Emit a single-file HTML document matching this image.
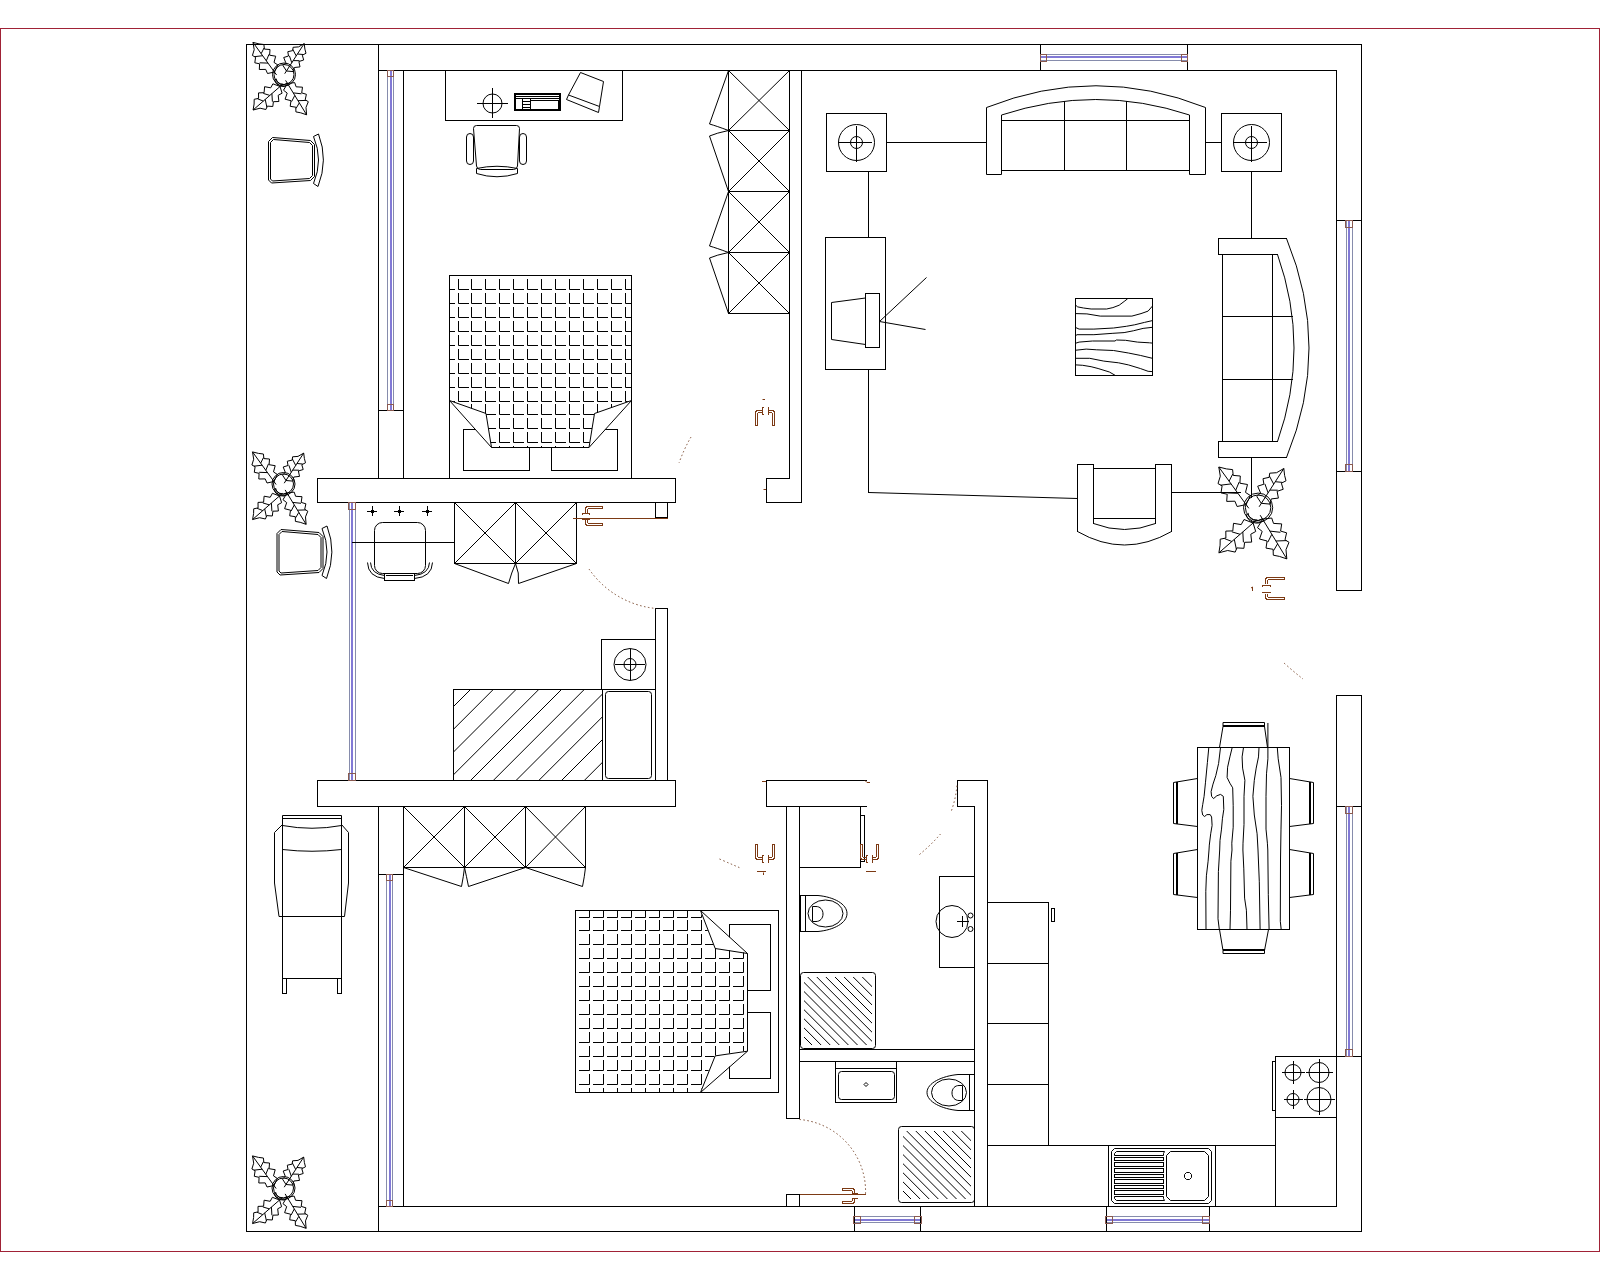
<!DOCTYPE html>
<html><head><meta charset="utf-8"><title>Floor plan</title>
<style>
html,body{margin:0;padding:0;background:#fff;}
body{width:1600px;height:1280px;overflow:hidden;}
svg{display:block;}
svg path,svg rect,svg circle,svg ellipse,svg polyline{fill:none;stroke:#000;stroke-width:1;}
.win path{stroke:#868cac;}
.win path.w2{stroke:#8279d6;stroke-width:2;}
.wend rect{stroke:#8a5a50;}
.or{stroke:#7c3a14 !important;}
.arc path{stroke:#7a4a30;stroke-dasharray:1.5 2.5;}
.red{stroke:#a02236 !important;}
</style></head>
<body>
<svg width="1600" height="1280" viewBox="0 0 1600 1280" >
<rect class="red" shape-rendering="crispEdges" x="0.5" y="28.5" width="1599" height="1223"/>
<path shape-rendering="crispEdges" d="M246 44.5H1362"/>
<path shape-rendering="crispEdges" d="M246 1231.5H1362"/>
<path shape-rendering="crispEdges" d="M246.5 44V1232"/>
<path shape-rendering="crispEdges" d="M1361.5 44V591"/>
<path shape-rendering="crispEdges" d="M1361.5 695V1232"/>
<path shape-rendering="crispEdges" d="M378.5 44V479"/>
<path shape-rendering="crispEdges" d="M378.5 806V1232"/>
<path shape-rendering="crispEdges" d="M378 70.5H1337"/>
<path shape-rendering="crispEdges" d="M1040.5 44V71"/>
<path shape-rendering="crispEdges" d="M1187.5 44V71"/>
<path shape-rendering="crispEdges" d="M1336.5 70V591"/>
<path shape-rendering="crispEdges" d="M1336.5 695V1207"/>
<path shape-rendering="crispEdges" d="M1336 220.5H1362"/>
<path shape-rendering="crispEdges" d="M1336 471.5H1362"/>
<path shape-rendering="crispEdges" d="M1336 590.5H1362"/>
<path shape-rendering="crispEdges" d="M1336 695.5H1362"/>
<path shape-rendering="crispEdges" d="M1336 806.5H1362"/>
<path shape-rendering="crispEdges" d="M1275 1056.5H1362"/>
<path shape-rendering="crispEdges" d="M403.5 70V479"/>
<path shape-rendering="crispEdges" d="M378 410.5H404"/>
<rect x="317.5" y="478.5" width="358" height="24" shape-rendering="crispEdges"/>
<rect x="317.5" y="780.5" width="358" height="26" shape-rendering="crispEdges"/>
<path shape-rendering="crispEdges" d="M403.5 806V1207"/>
<path shape-rendering="crispEdges" d="M378 874.5H404"/>
<path shape-rendering="crispEdges" d="M378 1206.5H1337"/>
<path shape-rendering="crispEdges" d="M854.5 1206V1232"/>
<path shape-rendering="crispEdges" d="M920.5 1206V1232"/>
<path shape-rendering="crispEdges" d="M1106.5 1206V1232"/>
<path shape-rendering="crispEdges" d="M1209.5 1206V1232"/>
<path shape-rendering="crispEdges" d="M789.5 70V479"/>
<path shape-rendering="crispEdges" d="M801.5 70V503"/>
<path shape-rendering="crispEdges" d="M766 478.5H790"/>
<path shape-rendering="crispEdges" d="M766.5 478V503"/>
<path shape-rendering="crispEdges" d="M766 502.5H802"/>
<rect x="655.5" y="502.5" width="12" height="15" shape-rendering="crispEdges"/>
<path shape-rendering="crispEdges" d="M655.5 608V781"/>
<path shape-rendering="crispEdges" d="M667.5 608V781"/>
<path shape-rendering="crispEdges" d="M655 608.5H668"/>
<path shape-rendering="crispEdges" d="M766 780.5H867"/>
<path shape-rendering="crispEdges" d="M766 806.5H867"/>
<path shape-rendering="crispEdges" d="M766.5 780V807"/>
<path shape-rendering="crispEdges" d="M786.5 806V1119"/>
<path shape-rendering="crispEdges" d="M799.5 806V1119"/>
<path shape-rendering="crispEdges" d="M786 1118.5H800"/>
<rect x="786.5" y="1194.5" width="13" height="12" shape-rendering="crispEdges"/>
<rect x="799.5" y="806.5" width="61" height="61" shape-rendering="crispEdges"/>
<rect x="860.5" y="815.5" width="4" height="46" shape-rendering="crispEdges"/>
<path shape-rendering="crispEdges" d="M957 780.5H988"/>
<path shape-rendering="crispEdges" d="M957.5 780V807"/>
<path shape-rendering="crispEdges" d="M957 806.5H975"/>
<path shape-rendering="crispEdges" d="M974.5 806V1207"/>
<path shape-rendering="crispEdges" d="M987.5 780V1207"/>
<path shape-rendering="crispEdges" d="M799 1049.5H975"/>
<path shape-rendering="crispEdges" d="M799 1061.5H975"/>
<path shape-rendering="crispEdges" d="M1048.5 902V1146"/>
<path shape-rendering="crispEdges" d="M987 902.5H1049"/>
<path shape-rendering="crispEdges" d="M987 963.5H1049"/>
<path shape-rendering="crispEdges" d="M987 1023.5H1049"/>
<path shape-rendering="crispEdges" d="M987 1084.5H1049"/>
<path shape-rendering="crispEdges" d="M987 1145.5H1276"/>
<path shape-rendering="crispEdges" d="M1108.5 1145V1207"/>
<path shape-rendering="crispEdges" d="M1215.5 1145V1207"/>
<path shape-rendering="crispEdges" d="M1275.5 1056V1207"/>
<path shape-rendering="crispEdges" d="M1275 1117.5H1337"/>
<rect x="1051.5" y="908.5" width="3" height="13" shape-rendering="crispEdges"/>
<rect x="1272.5" y="1061.5" width="3" height="49" shape-rendering="crispEdges"/>
<g class="win">
<path class="w1" shape-rendering="crispEdges" d="M387.5 71V410"/>
<path class="w1" shape-rendering="crispEdges" d="M393.5 71V410"/>
<path class="w2" shape-rendering="crispEdges" d="M391 71V410"/>
<path class="w1" shape-rendering="crispEdges" d="M349.5 503V780"/>
<path class="w1" shape-rendering="crispEdges" d="M355.5 503V780"/>
<path class="w2" shape-rendering="crispEdges" d="M352 503V780"/>
<path class="w1" shape-rendering="crispEdges" d="M386.5 875V1206"/>
<path class="w1" shape-rendering="crispEdges" d="M392.5 875V1206"/>
<path class="w2" shape-rendering="crispEdges" d="M390 875V1206"/>
<path class="w1" shape-rendering="crispEdges" d="M1346.5 221V471"/>
<path class="w1" shape-rendering="crispEdges" d="M1352.5 221V471"/>
<path class="w2" shape-rendering="crispEdges" d="M1349 221V471"/>
<path class="w1" shape-rendering="crispEdges" d="M1346.5 807V1056"/>
<path class="w1" shape-rendering="crispEdges" d="M1352.5 807V1056"/>
<path class="w2" shape-rendering="crispEdges" d="M1349 807V1056"/>
<path class="w1" shape-rendering="crispEdges" d="M1041 54.5H1187"/>
<path class="w1" shape-rendering="crispEdges" d="M1041 60.5H1187"/>
<path class="w2" shape-rendering="crispEdges" d="M1041 57H1187"/>
<path class="w1" shape-rendering="crispEdges" d="M855 1216.5H920"/>
<path class="w1" shape-rendering="crispEdges" d="M855 1222.5H920"/>
<path class="w2" shape-rendering="crispEdges" d="M855 1220H920"/>
<path class="w1" shape-rendering="crispEdges" d="M1107 1216.5H1209"/>
<path class="w1" shape-rendering="crispEdges" d="M1107 1222.5H1209"/>
<path class="w2" shape-rendering="crispEdges" d="M1107 1220H1209"/>
</g>
<g class="wend">
<rect x="387.5" y="70.5" width="6" height="6" shape-rendering="crispEdges"/>
<rect x="387.5" y="404.5" width="6" height="6" shape-rendering="crispEdges"/>
<rect x="348.5" y="502.5" width="7" height="7" shape-rendering="crispEdges"/>
<rect x="348.5" y="773.5" width="7" height="7" shape-rendering="crispEdges"/>
<rect x="386.5" y="874.5" width="6" height="6" shape-rendering="crispEdges"/>
<rect x="386.5" y="1200.5" width="6" height="6" shape-rendering="crispEdges"/>
<rect x="1345.5" y="220.5" width="7" height="7" shape-rendering="crispEdges"/>
<rect x="1345.5" y="464.5" width="7" height="7" shape-rendering="crispEdges"/>
<rect x="1345.5" y="806.5" width="7" height="7" shape-rendering="crispEdges"/>
<rect x="1345.5" y="1049.5" width="7" height="7" shape-rendering="crispEdges"/>
<rect x="1040.5" y="54.5" width="6" height="7" shape-rendering="crispEdges"/>
<rect x="1181.5" y="54.5" width="6" height="7" shape-rendering="crispEdges"/>
<rect x="853.5" y="1216.5" width="7" height="7" shape-rendering="crispEdges"/>
<rect x="914.5" y="1216.5" width="7" height="7" shape-rendering="crispEdges"/>
<rect x="1105.5" y="1216.5" width="7" height="7" shape-rendering="crispEdges"/>
<rect x="1202.5" y="1216.5" width="7" height="7" shape-rendering="crispEdges"/>
</g>
<rect x="445.5" y="70.5" width="177" height="50" shape-rendering="crispEdges"/>
<circle cx="492.5" cy="103.5" r="9.5"/>
<path shape-rendering="crispEdges" d="M477 103.5H508"/>
<path shape-rendering="crispEdges" d="M492.5 88V118"/>
<rect x="514.5" y="93.5" width="46" height="17" shape-rendering="crispEdges"/>
<rect x="515.5" y="94.5" width="44" height="15" shape-rendering="crispEdges"/>
<path shape-rendering="crispEdges" d="M516 96.5H559"/>
<path shape-rendering="crispEdges" d="M516 98.5H559"/>
<path shape-rendering="crispEdges" d="M522.5 98V110"/>
<path shape-rendering="crispEdges" d="M530.5 98V110"/>
<rect x="530.5" y="100.5" width="28" height="9" shape-rendering="crispEdges"/>
<path shape-rendering="crispEdges" d="M523 101.5H530"/>
<path shape-rendering="crispEdges" d="M523 104.5H530"/>
<path shape-rendering="crispEdges" d="M523 107.5H530"/>
<path d="M580.5 72.5 L603.5 81.5 L599.5 106.5 L598.5 112.5 L566.5 99.5 L568.5 95.0 Z"/>
<path d="M568.5 95.0L599.5 106.5"/>
<path d="M476.5 125.5H516.5Q519.5 125.5 519.5 128.5L517.5 166Q517 169.5 513.5 169.5H480.5Q477 169.5 476.5 166L473.5 128.5Q473.5 125.5 476.5 125.5Z"/>
<rect x="466.5" y="133.5" width="7" height="31" rx="3.5"/>
<rect x="519.5" y="133.5" width="7" height="31" rx="3.5"/>
<path d="M476.5 168.5Q497 164 517.5 168.5L517.5 173.5Q497 180 476.5 173.5Z"/>
<rect x="449.5" y="275.5" width="182" height="203" shape-rendering="crispEdges"/>
<rect x="463.5" y="429.5" width="66" height="41" shape-rendering="crispEdges"/>
<rect x="551.5" y="429.5" width="66" height="41" shape-rendering="crispEdges"/>
<path style="fill:#fff;stroke:none" d="M450 276H631V400.5L589 447.5H491.5L450 400.5Z"/>
<clipPath id="q1"><path d="M450 276H631V400.5L594.5 413.5L589 447H491.5L486 413.5L450 400.5Z"/></clipPath>
<g clip-path="url(#q1)">
<path d="M444.5 265V275.5H455M444.5 279V289.5H455M444.5 293V303.5H455M444.5 307V317.5H455M444.5 321V331.5H455M444.5 335V345.5H455M444.5 349V359.5H455M444.5 363V373.5H455M444.5 377V387.5H455M444.5 391V401.5H455M444.5 404V414.5H455M444.5 418V428.5H455M444.5 432V442.5H455M444.5 446V456.5H455M458.5 265V275.5H469M458.5 279V289.5H469M458.5 293V303.5H469M458.5 307V317.5H469M458.5 321V331.5H469M458.5 335V345.5H469M458.5 349V359.5H469M458.5 363V373.5H469M458.5 377V387.5H469M458.5 391V401.5H469M458.5 404V414.5H469M458.5 418V428.5H469M458.5 432V442.5H469M458.5 446V456.5H469M471.5 265V275.5H482M471.5 279V289.5H482M471.5 293V303.5H482M471.5 307V317.5H482M471.5 321V331.5H482M471.5 335V345.5H482M471.5 349V359.5H482M471.5 363V373.5H482M471.5 377V387.5H482M471.5 391V401.5H482M471.5 404V414.5H482M471.5 418V428.5H482M471.5 432V442.5H482M471.5 446V456.5H482M485.5 265V275.5H496M485.5 279V289.5H496M485.5 293V303.5H496M485.5 307V317.5H496M485.5 321V331.5H496M485.5 335V345.5H496M485.5 349V359.5H496M485.5 363V373.5H496M485.5 377V387.5H496M485.5 391V401.5H496M485.5 404V414.5H496M485.5 418V428.5H496M485.5 432V442.5H496M485.5 446V456.5H496M499.5 265V275.5H510M499.5 279V289.5H510M499.5 293V303.5H510M499.5 307V317.5H510M499.5 321V331.5H510M499.5 335V345.5H510M499.5 349V359.5H510M499.5 363V373.5H510M499.5 377V387.5H510M499.5 391V401.5H510M499.5 404V414.5H510M499.5 418V428.5H510M499.5 432V442.5H510M499.5 446V456.5H510M513.5 265V275.5H524M513.5 279V289.5H524M513.5 293V303.5H524M513.5 307V317.5H524M513.5 321V331.5H524M513.5 335V345.5H524M513.5 349V359.5H524M513.5 363V373.5H524M513.5 377V387.5H524M513.5 391V401.5H524M513.5 404V414.5H524M513.5 418V428.5H524M513.5 432V442.5H524M513.5 446V456.5H524M527.5 265V275.5H538M527.5 279V289.5H538M527.5 293V303.5H538M527.5 307V317.5H538M527.5 321V331.5H538M527.5 335V345.5H538M527.5 349V359.5H538M527.5 363V373.5H538M527.5 377V387.5H538M527.5 391V401.5H538M527.5 404V414.5H538M527.5 418V428.5H538M527.5 432V442.5H538M527.5 446V456.5H538M541.5 265V275.5H552M541.5 279V289.5H552M541.5 293V303.5H552M541.5 307V317.5H552M541.5 321V331.5H552M541.5 335V345.5H552M541.5 349V359.5H552M541.5 363V373.5H552M541.5 377V387.5H552M541.5 391V401.5H552M541.5 404V414.5H552M541.5 418V428.5H552M541.5 432V442.5H552M541.5 446V456.5H552M555.5 265V275.5H566M555.5 279V289.5H566M555.5 293V303.5H566M555.5 307V317.5H566M555.5 321V331.5H566M555.5 335V345.5H566M555.5 349V359.5H566M555.5 363V373.5H566M555.5 377V387.5H566M555.5 391V401.5H566M555.5 404V414.5H566M555.5 418V428.5H566M555.5 432V442.5H566M555.5 446V456.5H566M569.5 265V275.5H580M569.5 279V289.5H580M569.5 293V303.5H580M569.5 307V317.5H580M569.5 321V331.5H580M569.5 335V345.5H580M569.5 349V359.5H580M569.5 363V373.5H580M569.5 377V387.5H580M569.5 391V401.5H580M569.5 404V414.5H580M569.5 418V428.5H580M569.5 432V442.5H580M569.5 446V456.5H580M583.5 265V275.5H594M583.5 279V289.5H594M583.5 293V303.5H594M583.5 307V317.5H594M583.5 321V331.5H594M583.5 335V345.5H594M583.5 349V359.5H594M583.5 363V373.5H594M583.5 377V387.5H594M583.5 391V401.5H594M583.5 404V414.5H594M583.5 418V428.5H594M583.5 432V442.5H594M583.5 446V456.5H594M597.5 265V275.5H608M597.5 279V289.5H608M597.5 293V303.5H608M597.5 307V317.5H608M597.5 321V331.5H608M597.5 335V345.5H608M597.5 349V359.5H608M597.5 363V373.5H608M597.5 377V387.5H608M597.5 391V401.5H608M597.5 404V414.5H608M597.5 418V428.5H608M597.5 432V442.5H608M597.5 446V456.5H608M611.5 265V275.5H622M611.5 279V289.5H622M611.5 293V303.5H622M611.5 307V317.5H622M611.5 321V331.5H622M611.5 335V345.5H622M611.5 349V359.5H622M611.5 363V373.5H622M611.5 377V387.5H622M611.5 391V401.5H622M611.5 404V414.5H622M611.5 418V428.5H622M611.5 432V442.5H622M611.5 446V456.5H622M625.5 265V275.5H636M625.5 279V289.5H636M625.5 293V303.5H636M625.5 307V317.5H636M625.5 321V331.5H636M625.5 335V345.5H636M625.5 349V359.5H636M625.5 363V373.5H636M625.5 377V387.5H636M625.5 391V401.5H636M625.5 404V414.5H636M625.5 418V428.5H636M625.5 432V442.5H636M625.5 446V456.5H636"/>
</g>
<path d="M449.5 400.5 L486.0 413.5 L491.5 447.5 L589.0 447.5 L594.5 413.5 L631.5 400.5"/>
<path d="M449.5 400.5L491.5 447.5"/>
<path d="M631.5 400.5L589.0 447.5"/>
<rect x="728.5" y="70.5" width="61" height="243" shape-rendering="crispEdges"/>
<path shape-rendering="crispEdges" d="M728 130.5H790"/>
<path shape-rendering="crispEdges" d="M728 191.5H790"/>
<path shape-rendering="crispEdges" d="M728 252.5H790"/>
<path d="M728.5 70.5L789.5 130.5"/>
<path d="M789.5 70.5L728.5 130.5"/>
<path d="M728.5 130.5L789.5 191.5"/>
<path d="M789.5 130.5L728.5 191.5"/>
<path d="M728.5 191.5L789.5 252.5"/>
<path d="M789.5 191.5L728.5 252.5"/>
<path d="M728.5 252.5L789.5 313.5"/>
<path d="M789.5 252.5L728.5 313.5"/>
<g shape-rendering="auto">
<path d="M728.5 70.5L709.5 124.0"/>
<path d="M709.5 124.0Q716.5 126.0 728.5 130.5"/>
<path d="M709.5 136.0Q716.5 133.0 728.5 130.5"/>
<path d="M709.5 136.0L728.5 191.5"/>
<path d="M728.5 191.5L709.5 246.0"/>
<path d="M709.5 246.0Q716.5 248.0 728.5 252.5"/>
<path d="M709.5 258.0Q716.5 255.0 728.5 252.5"/>
<path d="M709.5 258.0L728.5 313.5"/>
</g>
<rect x="826.5" y="113.5" width="60" height="58" shape-rendering="crispEdges"/>
<circle cx="856.5" cy="142.5" r="18"/>
<circle cx="856.5" cy="142.5" r="6"/>
<path shape-rendering="crispEdges" d="M838 142.5H872"/>
<path shape-rendering="crispEdges" d="M856.5 126V162"/>
<rect x="1221.5" y="113.5" width="60" height="58" shape-rendering="crispEdges"/>
<circle cx="1251.5" cy="142.5" r="18"/>
<circle cx="1251.5" cy="142.5" r="6"/>
<path shape-rendering="crispEdges" d="M1233 142.5H1267"/>
<path shape-rendering="crispEdges" d="M1251.5 126V162"/>
<path shape-rendering="crispEdges" d="M886 142.5H987"/>
<path shape-rendering="crispEdges" d="M1205 142.5H1222"/>
<path shape-rendering="crispEdges" d="M868.5 171V238"/>
<path shape-rendering="crispEdges" d="M1251.5 171V239"/>
<g shape-rendering="auto">
<path d="M986.5 174.5V107.5Q1096 64 1205.5 107.5V174.5H1189.5V115Q1096 84 1001.5 115V174.5Z"/>
</g>
<path shape-rendering="crispEdges" d="M1001 120.5H1190"/>
<path shape-rendering="crispEdges" d="M1001 170.5H1190"/>
<path shape-rendering="crispEdges" d="M1064.5 101V171"/>
<path shape-rendering="crispEdges" d="M1126.5 101V171"/>
<rect x="825.5" y="237.5" width="60" height="132" shape-rendering="crispEdges"/>
<path d="M865.5 298.0 L831.5 302.5 L831.5 339.5 L865.5 344.5"/>
<rect x="865.5" y="293.5" width="14" height="54" shape-rendering="crispEdges"/>
<g shape-rendering="auto">
<path d="M879.5 321.5L926.5 277.5"/>
<path d="M879.5 321.5L925.5 329.5"/>
</g>
<path shape-rendering="crispEdges" d="M868.5 369V493"/>
<path d="M868.5 492.5 L1077.5 498.5"/>
<rect x="1075.5" y="298.5" width="77" height="77" shape-rendering="crispEdges"/>
<g shape-rendering="auto">
<path d="M1076.0 305.5 L1077.7 306.9 L1083.5 308.0 L1091.1 309.0 L1106.6 309.0 L1112.9 307.6 L1119.2 305.2 L1124.9 300.9 L1127.7 298.7"/>
<path d="M1076.0 313.6 L1086.9 313.9 L1100.2 316.1 L1131.9 316.1 L1141.0 313.6 L1148.1 311.1 L1152.4 306.1"/>
<path d="M1076.0 327.7 L1079.1 329.1 L1093.9 329.1 L1113.6 328.0 L1126.3 326.3 L1134.7 324.8 L1144.5 322.4 L1152.4 320.6"/>
<path d="M1076.0 335.4 L1077.0 334.7 L1093.9 334.7 L1112.9 333.3 L1124.1 332.6 L1133.3 330.8 L1143.1 328.4 L1152.4 327.3"/>
<path d="M1076.0 343.1 L1079.1 342.1 L1092.5 341.0 L1115.0 341.0 L1116.4 340.0 L1125.6 340.3 L1137.5 342.1 L1149.5 342.8 L1152.4 343.1"/>
<path d="M1076.0 350.2 L1086.2 349.1 L1096.7 349.8 L1113.6 350.5 L1128.4 353.0 L1140.3 355.4 L1152.4 358.3"/>
<path d="M1076.0 358.3 L1089.7 358.3 L1103.8 361.1 L1118.5 362.8 L1128.4 364.9 L1140.3 368.5 L1148.1 371.3 L1152.4 371.6"/>
<path d="M1076.0 364.9 L1082.7 365.3 L1091.1 366.7 L1098.1 368.5 L1109.4 372.0 L1115.1 375.3"/>
</g>
<path shape-rendering="crispEdges" d="M1218 238.5H1287"/>
<path shape-rendering="crispEdges" d="M1218 254.5H1278"/>
<path shape-rendering="crispEdges" d="M1218.5 238V255"/>
<path shape-rendering="crispEdges" d="M1218 457.5H1287"/>
<path shape-rendering="crispEdges" d="M1218 441.5H1278"/>
<path shape-rendering="crispEdges" d="M1218.5 441V458"/>
<path shape-rendering="crispEdges" d="M1222.5 254V442"/>
<path shape-rendering="crispEdges" d="M1272.5 254V442"/>
<path shape-rendering="crispEdges" d="M1222 316.5H1293"/>
<path shape-rendering="crispEdges" d="M1222 379.5H1293"/>
<g shape-rendering="auto">
<path d="M1277.5 254.5Q1310.5 348.0 1277.5 441.5"/>
<path d="M1286.5 238.5Q1331.5 348.0 1286.5 457.5"/>
</g>
<path shape-rendering="crispEdges" d="M1251.5 457V498"/>
<path shape-rendering="crispEdges" d="M1077.5 464V532"/>
<path shape-rendering="crispEdges" d="M1077 464.5H1094"/>
<path shape-rendering="crispEdges" d="M1093.5 464V524"/>
<path shape-rendering="crispEdges" d="M1171.5 464V532"/>
<path shape-rendering="crispEdges" d="M1155 464.5H1172"/>
<path shape-rendering="crispEdges" d="M1155.5 464V524"/>
<path shape-rendering="crispEdges" d="M1093 468.5H1156"/>
<path shape-rendering="crispEdges" d="M1093 518.5H1156"/>
<g shape-rendering="auto">
<path d="M1093.5 523.5Q1124.5 535.5 1155.5 523.5"/>
<path d="M1077.5 531.5Q1124.5 558.5 1171.5 531.5"/>
</g>
<path shape-rendering="crispEdges" d="M1171 492.5H1241"/>
<rect x="1197.5" y="747.5" width="92" height="182" shape-rendering="crispEdges"/>
<g shape-rendering="auto">
<path d="M1208.8 747.5 L1207.4 762.5 L1205.5 782.2 L1204.1 796.3 L1202.7 804.7 L1201.8 810.4 L1202.7 815.0 L1204.6 816.5 L1206.9 814.6 L1210.2 814.6 L1211.6 817.0 L1212.1 825.4 L1210.7 833.8 L1209.3 845.1 L1209.0 850.0 L1208.1 861.2 L1206.4 875.8 L1205.8 891.3 L1206.0 929.5"/>
<path d="M1220.5 747.5 L1218.6 763.5 L1215.8 775.6 L1213.0 784.1 L1211.1 791.6 L1211.6 796.3 L1213.5 798.6 L1216.8 795.8 L1220.5 794.4 L1223.3 796.3 L1223.8 809.4 L1222.4 818.8 L1221.5 829.1 L1220.0 840.4 L1219.7 850.0 L1218.4 871.5 L1218.0 918.8 L1219.3 929.5"/>
<path d="M1232.2 747.5 L1229.9 756.9 L1227.6 767.2 L1227.1 777.5 L1229.9 783.2 L1232.7 787.8 L1233.2 805.7 L1233.2 827.2 L1231.8 843.2 L1232.0 850.0 L1230.9 861.2 L1230.5 910.2 L1230.0 929.5"/>
<path d="M1243.5 747.5 L1242.1 756.9 L1242.6 768.1 L1244.9 780.3 L1244.0 796.3 L1244.0 824.4 L1243.0 843.2 L1242.9 850.0 L1243.8 868.9 L1244.6 898.1 L1246.4 910.2 L1247.0 929.5"/>
<path d="M1259.0 747.5 L1258.5 756.9 L1256.2 768.1 L1254.3 780.3 L1252.9 796.3 L1254.3 815.0 L1257.1 833.8 L1258.0 850.0 L1259.3 881.8 L1260.1 929.5"/>
<path d="M1267.9 723.0 L1267.9 758.8 L1266.5 773.8 L1266.0 796.3 L1266.0 829.1 L1267.4 843.2 L1267.8 850.0 L1268.3 894.7 L1269.1 929.5"/>
<path d="M1277.3 747.5 L1278.2 758.8 L1281.0 777.5 L1281.5 805.7 L1281.0 829.1 L1280.5 860.0 L1280.3 921.3 L1281.2 929.5"/>
<path d="M1219.5 747.5 L1223.0 726.5 L1223.0 722.5 L1264.5 722.5 L1264.5 726.5 L1267.5 747.5"/>
<path d="M1219.5 929.5 L1223.0 950.5 L1223.0 953.5 L1264.5 953.5 L1264.5 950.5 L1268.5 929.5"/>
<path d="M1197.5 778.5 L1173.5 782.5 L1173.5 823.5 L1197.5 826.5"/>
<path d="M1289.5 778.5 L1313.5 782.5 L1313.5 823.5 L1289.5 826.5"/>
<path d="M1197.5 849.5 L1173.5 853.5 L1173.5 894.5 L1197.5 897.5"/>
<path d="M1289.5 849.5 L1313.5 853.5 L1313.5 894.5 L1289.5 897.5"/>
</g>
<path shape-rendering="crispEdges" d="M1223 725.5H1265"/>
<path shape-rendering="crispEdges" d="M1223 726.5H1265"/>
<path shape-rendering="crispEdges" d="M1223 949.5H1265"/>
<path shape-rendering="crispEdges" d="M1223 950.5H1265"/>
<path shape-rendering="crispEdges" d="M1176.5 782V824"/>
<path shape-rendering="crispEdges" d="M1177.5 782V824"/>
<path shape-rendering="crispEdges" d="M1309.5 782V824"/>
<path shape-rendering="crispEdges" d="M1310.5 782V824"/>
<path shape-rendering="crispEdges" d="M1176.5 853V895"/>
<path shape-rendering="crispEdges" d="M1177.5 853V895"/>
<path shape-rendering="crispEdges" d="M1309.5 853V895"/>
<path shape-rendering="crispEdges" d="M1310.5 853V895"/>
<path d="M1114.5 1148.5 L1208.5 1148.5 L1211.5 1151.5 L1211.5 1200.5 L1208.5 1203.5 L1114.5 1203.5 L1111.5 1200.5 L1111.5 1151.5 Z"/>
<rect x="1114.5" y="1157.5" width="49" height="3" shape-rendering="crispEdges"/>
<rect x="1114.5" y="1162.5" width="49" height="4" shape-rendering="crispEdges"/>
<rect x="1114.5" y="1168.5" width="49" height="4" shape-rendering="crispEdges"/>
<rect x="1114.5" y="1174.5" width="49" height="3" shape-rendering="crispEdges"/>
<rect x="1114.5" y="1179.5" width="49" height="4" shape-rendering="crispEdges"/>
<rect x="1114.5" y="1185.5" width="49" height="3" shape-rendering="crispEdges"/>
<rect x="1114.5" y="1190.5" width="49" height="4" shape-rendering="crispEdges"/>
<path d="M1116.5 1151.5 L1164.5 1151.5 L1163.5 1153.5 L1163.5 1155.5 L1114.5 1155.5 L1114.5 1153.5 Z"/>
<path d="M1114.5 1196.5 L1163.5 1196.5 L1163.5 1198.5 L1164.5 1200.5 L1116.5 1200.5 L1114.5 1198.5 Z"/>
<path d="M1170.5 1151.5 L1204.5 1151.5 L1208.5 1155.5 L1208.5 1196.5 L1204.5 1200.5 L1170.5 1200.5 L1166.5 1196.5 L1166.5 1155.5 Z"/>
<path d="M1186.5 1172.5 L1189.5 1172.5 L1191.5 1174.5 L1191.5 1177.5 L1189.5 1179.5 L1186.5 1179.5 L1184.5 1177.5 L1184.5 1174.5 Z"/>
<circle cx="1293.0" cy="1072.5" r="8"/>
<path shape-rendering="crispEdges" d="M1282 1072.5H1305"/>
<path shape-rendering="crispEdges" d="M1293.0 1061V1084"/>
<circle cx="1319.0" cy="1072.5" r="10"/>
<path shape-rendering="crispEdges" d="M1306 1072.5H1333"/>
<path shape-rendering="crispEdges" d="M1319.0 1059V1086"/>
<circle cx="1293.0" cy="1099.5" r="6"/>
<path shape-rendering="crispEdges" d="M1284 1099.5H1303"/>
<path shape-rendering="crispEdges" d="M1293.0 1090V1109"/>
<circle cx="1319.0" cy="1099.5" r="12"/>
<path shape-rendering="crispEdges" d="M1304 1099.5H1335"/>
<path shape-rendering="crispEdges" d="M1319.0 1084V1115"/>
<rect x="939.5" y="876.5" width="35" height="91" shape-rendering="crispEdges"/>
<circle cx="952.0" cy="921.5" r="16"/>
<path shape-rendering="crispEdges" d="M957 921.5H969"/>
<path shape-rendering="crispEdges" d="M962.5 916V927"/>
<circle cx="970.5" cy="915.5" r="2.5"/>
<circle cx="970.5" cy="929.0" r="2.5"/>
<rect x="800.5" y="895.5" width="5" height="36" shape-rendering="crispEdges"/>
<g shape-rendering="auto">
<path d="M805.5 895.5H818C834 897 847 904 847 913.5C847 923 834 930 818 931.5H805.5"/>
<ellipse cx="825.5" cy="913.5" rx="17.5" ry="13.5"/>
<path d="M812.5 906.5H816C820 906.5 823 909.5 823 914C823 918.5 820 921.5 816 921.5H812.5Z"/>
<path d="M969.5 1074.5H958C942 1076 927 1083 927 1092.5C927 1102 942 1109 958 1110.5H969.5"/>
<ellipse cx="949" cy="1092.5" rx="17.5" ry="13.5"/>
<path d="M962.5 1085.5H959C955 1085.5 952 1088.5 952 1093C952 1097.5 955 1100.5 959 1100.5H962.5Z"/>
</g>
<rect x="969.5" y="1074.5" width="5" height="36" shape-rendering="crispEdges"/>
<rect x="800.5" y="972.5" width="75" height="76" rx="3"/>
<clipPath id="sh1"><rect x="804" y="977" width="68" height="68"/></clipPath>
<g clip-path="url(#sh1)">
<path d="M742.50 975.5L814.50 1047.5M751.60 975.5L823.60 1047.5M760.70 975.5L832.70 1047.5M769.80 975.5L841.80 1047.5M778.90 975.5L850.90 1047.5M788.00 975.5L860.00 1047.5M797.10 975.5L869.10 1047.5M806.20 975.5L878.20 1047.5M815.30 975.5L887.30 1047.5M824.40 975.5L896.40 1047.5M833.50 975.5L905.50 1047.5M842.60 975.5L914.60 1047.5M851.70 975.5L923.70 1047.5M860.80 975.5L932.80 1047.5"/>
</g>
<rect x="898.5" y="1126.5" width="76" height="76" rx="3"/>
<clipPath id="sh2"><rect x="903" y="1131" width="68" height="68"/></clipPath>
<g clip-path="url(#sh2)">
<path d="M841.50 1129.5L913.50 1201.5M850.60 1129.5L922.60 1201.5M859.70 1129.5L931.70 1201.5M868.80 1129.5L940.80 1201.5M877.90 1129.5L949.90 1201.5M887.00 1129.5L959.00 1201.5M896.10 1129.5L968.10 1201.5M905.20 1129.5L977.20 1201.5M914.30 1129.5L986.30 1201.5M923.40 1129.5L995.40 1201.5M932.50 1129.5L1004.50 1201.5M941.60 1129.5L1013.60 1201.5M950.70 1129.5L1022.70 1201.5M959.80 1129.5L1031.80 1201.5"/>
</g>
<rect x="835.5" y="1061.5" width="61" height="41" shape-rendering="crispEdges"/>
<path shape-rendering="crispEdges" d="M835 1068.5H897"/>
<rect x="838.5" y="1071.5" width="56" height="28" rx="3"/>
<path d="M866.0 1082.5 L868.0 1084.5 L866.0 1086.5 L864.0 1084.5 Z"/>
<path shape-rendering="crispEdges" d="M367 511.5H377"/>
<path shape-rendering="crispEdges" d="M372.0 506V516"/>
<rect x="371.0" y="510.5" width="2.0" height="2" shape-rendering="crispEdges"/>
<path shape-rendering="crispEdges" d="M394 511.5H404"/>
<path shape-rendering="crispEdges" d="M399.0 506V516"/>
<rect x="398.0" y="510.5" width="2.0" height="2" shape-rendering="crispEdges"/>
<path shape-rendering="crispEdges" d="M422 511.5H432"/>
<path shape-rendering="crispEdges" d="M427.0 506V516"/>
<rect x="426.0" y="510.5" width="2.0" height="2" shape-rendering="crispEdges"/>
<rect x="374.5" y="522.5" width="51" height="51" rx="8"/>
<rect x="384.5" y="573.5" width="30" height="7" shape-rendering="crispEdges"/>
<path shape-rendering="crispEdges" d="M386 575.5H413"/>
<g shape-rendering="auto">
<path d="M367.5 562.5Q368 577 384.5 578.5"/>
<path d="M370.5 562.5Q371 574 384.5 575.5"/>
<path d="M432.5 562.5Q432 577 414.5 578.5"/>
<path d="M429.5 562.5Q429 574 414.5 575.5"/>
</g>
<path shape-rendering="crispEdges" d="M352 542.5H455"/>
<rect x="454.5" y="502.5" width="122" height="61" shape-rendering="crispEdges"/>
<path shape-rendering="crispEdges" d="M515.5 502V564"/>
<path d="M454.5 502.5L515.5 563.5"/>
<path d="M515.5 502.5L454.5 563.5"/>
<path d="M515.5 502.5L576.5 563.5"/>
<path d="M576.5 502.5L515.5 563.5"/>
<g shape-rendering="auto">
<path d="M454.5 563.5L508.5 583.5"/>
<path d="M508.5 583.5Q511.5 572.5 515.5 563.5"/>
<path d="M576.5 563.5L518.5 583.5"/>
<path d="M518.5 583.5Q519.5 572.5 515.5 563.5"/>
</g>
<rect x="601.5" y="639.5" width="54" height="50" shape-rendering="crispEdges"/>
<circle cx="630.0" cy="664.5" r="16"/>
<circle cx="630.0" cy="664.5" r="6"/>
<path shape-rendering="crispEdges" d="M615 664.5H645"/>
<path shape-rendering="crispEdges" d="M630.0 649V680"/>
<rect x="453.5" y="689.5" width="149" height="91" shape-rendering="crispEdges"/>
<clipPath id="hc"><rect x="454" y="690" width="148" height="90"/></clipPath>
<g clip-path="url(#hc)">
<path d="M475.00 685L375.00 785M497.75 685L397.75 785M520.50 685L420.50 785M543.25 685L443.25 785M566.00 685L466.00 785M588.75 685L488.75 785M611.50 685L511.50 785M634.25 685L534.25 785M657.00 685L557.00 785M679.75 685L579.75 785"/>
</g>
<rect x="602.5" y="689.5" width="53" height="91" shape-rendering="crispEdges"/>
<rect x="605.5" y="691.5" width="46" height="87" rx="3"/>
<rect x="403.5" y="806.5" width="182" height="61" shape-rendering="crispEdges"/>
<path shape-rendering="crispEdges" d="M464.5 806V868"/>
<path shape-rendering="crispEdges" d="M525.5 806V868"/>
<path d="M403.5 806.5L464.5 867.5"/>
<path d="M464.5 806.5L403.5 867.5"/>
<path d="M464.5 806.5L525.5 867.5"/>
<path d="M525.5 806.5L464.5 867.5"/>
<path d="M525.5 806.5L585.5 867.5"/>
<path d="M585.5 806.5L525.5 867.5"/>
<g shape-rendering="auto">
<path d="M403.5 867.5L461.5 886.5"/>
<path d="M461.5 886.5Q463.5 876.5 464.5 867.5"/>
<path d="M525.5 867.5L468.5 886.5"/>
<path d="M468.5 886.5Q466.5 876.5 464.5 867.5"/>
<path d="M525.5 867.5L582.5 886.5"/>
<path d="M582.5 886.5Q584.5 876.5 585.5 867.5"/>
</g>
<rect x="575.5" y="910.5" width="203" height="182" shape-rendering="crispEdges"/>
<rect x="729.5" y="924.5" width="41" height="66" shape-rendering="crispEdges"/>
<rect x="729.5" y="1012.5" width="41" height="66" shape-rendering="crispEdges"/>
<path style="fill:#fff;stroke:none" d="M576 911H700.5L747.5 953.5V1050.7L700.5 1092H576Z"/>
<clipPath id="q2"><path d="M576 911H700L714.7 948L747 953V1050.7L714.7 1055.4L700 1092H576Z"/></clipPath>
<g clip-path="url(#q2)">
<path d="M579 903.5H589.5V893M579 917.5H589.5V907M579 930.5H589.5V920M579 944.5H589.5V934M579 958.5H589.5V948M579 972.5H589.5V962M579 986.5H589.5V976M579 1000.5H589.5V990M579 1014.5H589.5V1004M579 1028.5H589.5V1018M579 1042.5H589.5V1032M579 1056.5H589.5V1046M579 1070.5H589.5V1060M579 1084.5H589.5V1074M579 1098.5H589.5V1088M593 903.5H603.5V893M593 917.5H603.5V907M593 930.5H603.5V920M593 944.5H603.5V934M593 958.5H603.5V948M593 972.5H603.5V962M593 986.5H603.5V976M593 1000.5H603.5V990M593 1014.5H603.5V1004M593 1028.5H603.5V1018M593 1042.5H603.5V1032M593 1056.5H603.5V1046M593 1070.5H603.5V1060M593 1084.5H603.5V1074M593 1098.5H603.5V1088M607 903.5H617.5V893M607 917.5H617.5V907M607 930.5H617.5V920M607 944.5H617.5V934M607 958.5H617.5V948M607 972.5H617.5V962M607 986.5H617.5V976M607 1000.5H617.5V990M607 1014.5H617.5V1004M607 1028.5H617.5V1018M607 1042.5H617.5V1032M607 1056.5H617.5V1046M607 1070.5H617.5V1060M607 1084.5H617.5V1074M607 1098.5H617.5V1088M621 903.5H631.5V893M621 917.5H631.5V907M621 930.5H631.5V920M621 944.5H631.5V934M621 958.5H631.5V948M621 972.5H631.5V962M621 986.5H631.5V976M621 1000.5H631.5V990M621 1014.5H631.5V1004M621 1028.5H631.5V1018M621 1042.5H631.5V1032M621 1056.5H631.5V1046M621 1070.5H631.5V1060M621 1084.5H631.5V1074M621 1098.5H631.5V1088M635 903.5H645.5V893M635 917.5H645.5V907M635 930.5H645.5V920M635 944.5H645.5V934M635 958.5H645.5V948M635 972.5H645.5V962M635 986.5H645.5V976M635 1000.5H645.5V990M635 1014.5H645.5V1004M635 1028.5H645.5V1018M635 1042.5H645.5V1032M635 1056.5H645.5V1046M635 1070.5H645.5V1060M635 1084.5H645.5V1074M635 1098.5H645.5V1088M649 903.5H659.5V893M649 917.5H659.5V907M649 930.5H659.5V920M649 944.5H659.5V934M649 958.5H659.5V948M649 972.5H659.5V962M649 986.5H659.5V976M649 1000.5H659.5V990M649 1014.5H659.5V1004M649 1028.5H659.5V1018M649 1042.5H659.5V1032M649 1056.5H659.5V1046M649 1070.5H659.5V1060M649 1084.5H659.5V1074M649 1098.5H659.5V1088M663 903.5H673.5V893M663 917.5H673.5V907M663 930.5H673.5V920M663 944.5H673.5V934M663 958.5H673.5V948M663 972.5H673.5V962M663 986.5H673.5V976M663 1000.5H673.5V990M663 1014.5H673.5V1004M663 1028.5H673.5V1018M663 1042.5H673.5V1032M663 1056.5H673.5V1046M663 1070.5H673.5V1060M663 1084.5H673.5V1074M663 1098.5H673.5V1088M677 903.5H687.5V893M677 917.5H687.5V907M677 930.5H687.5V920M677 944.5H687.5V934M677 958.5H687.5V948M677 972.5H687.5V962M677 986.5H687.5V976M677 1000.5H687.5V990M677 1014.5H687.5V1004M677 1028.5H687.5V1018M677 1042.5H687.5V1032M677 1056.5H687.5V1046M677 1070.5H687.5V1060M677 1084.5H687.5V1074M677 1098.5H687.5V1088M691 903.5H701.5V893M691 917.5H701.5V907M691 930.5H701.5V920M691 944.5H701.5V934M691 958.5H701.5V948M691 972.5H701.5V962M691 986.5H701.5V976M691 1000.5H701.5V990M691 1014.5H701.5V1004M691 1028.5H701.5V1018M691 1042.5H701.5V1032M691 1056.5H701.5V1046M691 1070.5H701.5V1060M691 1084.5H701.5V1074M691 1098.5H701.5V1088M705 903.5H715.5V893M705 917.5H715.5V907M705 930.5H715.5V920M705 944.5H715.5V934M705 958.5H715.5V948M705 972.5H715.5V962M705 986.5H715.5V976M705 1000.5H715.5V990M705 1014.5H715.5V1004M705 1028.5H715.5V1018M705 1042.5H715.5V1032M705 1056.5H715.5V1046M705 1070.5H715.5V1060M705 1084.5H715.5V1074M705 1098.5H715.5V1088M719 903.5H729.5V893M719 917.5H729.5V907M719 930.5H729.5V920M719 944.5H729.5V934M719 958.5H729.5V948M719 972.5H729.5V962M719 986.5H729.5V976M719 1000.5H729.5V990M719 1014.5H729.5V1004M719 1028.5H729.5V1018M719 1042.5H729.5V1032M719 1056.5H729.5V1046M719 1070.5H729.5V1060M719 1084.5H729.5V1074M719 1098.5H729.5V1088M733 903.5H743.5V893M733 917.5H743.5V907M733 930.5H743.5V920M733 944.5H743.5V934M733 958.5H743.5V948M733 972.5H743.5V962M733 986.5H743.5V976M733 1000.5H743.5V990M733 1014.5H743.5V1004M733 1028.5H743.5V1018M733 1042.5H743.5V1032M733 1056.5H743.5V1046M733 1070.5H743.5V1060M733 1084.5H743.5V1074M733 1098.5H743.5V1088M747 903.5H757.5V893M747 917.5H757.5V907M747 930.5H757.5V920M747 944.5H757.5V934M747 958.5H757.5V948M747 972.5H757.5V962M747 986.5H757.5V976M747 1000.5H757.5V990M747 1014.5H757.5V1004M747 1028.5H757.5V1018M747 1042.5H757.5V1032M747 1056.5H757.5V1046M747 1070.5H757.5V1060M747 1084.5H757.5V1074M747 1098.5H757.5V1088"/>
</g>
<g shape-rendering="auto">
<path d="M700.5 910.5 L715.2 948.5 L747.5 953.5 L747.5 1051.2 L715.2 1055.9 L700.5 1092.5"/>
<path d="M700.5 910.5L747.5 953.5"/>
<path d="M747.5 1051.2L700.5 1092.5"/>
</g>
<g transform="translate(0 0)" shape-rendering="auto">
<path d="M272.5 137.5L310.5 140.5L314.5 144.5V176.5L310.5 180.5L271.5 183L268.5 180V141.5Z"/>
<path d="M273.5 139.5L309.5 142.5L312.5 145.5V175.5L309.5 178.5L272.5 181L270.5 179V142.5Z"/>
<path d="M313.5 136.5Q323.5 160 313.5 183.5L318 186.5Q328.5 160 318.5 134Z"/>
</g>
<g transform="translate(8.5 392)" shape-rendering="auto">
<path d="M272.5 137.5L310.5 140.5L314.5 144.5V176.5L310.5 180.5L271.5 183L268.5 180V141.5Z"/>
<path d="M273.5 139.5L309.5 142.5L312.5 145.5V175.5L309.5 178.5L272.5 181L270.5 179V142.5Z"/>
<path d="M313.5 136.5Q323.5 160 313.5 183.5L318 186.5Q328.5 160 318.5 134Z"/>
</g>
<g shape-rendering="auto">
<path d="M282.5 815.5H341.5V978.5H282.5Z"/>
<path d="M282.5 818.5H341.5"/>
<path d="M282.5 825.5Q312 831 341.5 825.5"/>
<path d="M282.5 849.5Q312 853 341.5 849.5"/>
<path d="M282.5 916.5H341.5"/>
<path d="M282.5 824.5L274.5 832.5V883L279 916.5H282.5"/>
<path d="M341.5 824.5L348.5 832.5V883L344.5 916.5H341.5"/>
</g>
<rect x="282.5" y="978.5" width="4" height="15" shape-rendering="crispEdges"/>
<rect x="337.5" y="978.5" width="4" height="15" shape-rendering="crispEdges"/>
<path d="M274.5 72.0 L267.5 73.5 L265.7 69.4 L259.3 69.5 L259.6 63.8 L254.8 62.8 L255.6 57.2 L252.4 55.5 L254.2 49.7 L253.0 42.4 L259.0 43.9 L263.9 44.5 L264.4 49.1 L270.0 49.5 L269.6 55.2 L275.7 56.2 L274.0 62.4 L277.9 65.0Z"/>
<path d="M276.6 75.0L253.0 42.4"/>
<path d="M268.1 63.1L259.7 62.8M262.7 55.7L254.4 56.7M266.3 60.8L269.0 54.3M261.2 53.6L264.0 48.0"/>
<path d="M286.5 71.0 L283.0 65.6 L285.8 62.8 L283.7 57.5 L288.5 56.0 L287.8 51.7 L292.7 50.6 L293.1 47.3 L298.5 46.9 L304.2 43.6 L304.9 49.1 L306.0 53.3 L302.3 55.2 L303.7 60.0 L298.9 61.5 L300.0 66.9 L294.3 67.5 L293.4 71.6Z"/>
<path d="M284.7 73.7L304.2 43.6"/>
<path d="M291.8 62.8L289.4 55.8M296.2 55.9L292.8 49.4M293.2 60.6L299.4 60.7M297.5 54.0L303.1 54.5"/>
<path d="M280.0 86.5 L282.1 93.2 L278.2 95.3 L278.9 101.5 L273.4 101.7 L272.8 106.5 L267.3 106.1 L265.9 109.5 L260.1 108.2 L253.1 110.0 L254.1 104.0 L254.2 99.3 L258.6 98.4 L258.5 92.9 L264.1 92.7 L264.6 86.7 L270.7 87.8 L272.9 83.8Z"/>
<path d="M282.7 84.2L253.1 110.0"/>
<path d="M271.9 93.5L272.4 101.7M265.2 99.4L266.9 107.3M269.8 95.4L263.3 93.4M263.3 101.1L257.6 98.8"/>
<path d="M287.5 83.5 L294.7 82.6 L296.1 86.8 L302.5 87.2 L301.7 92.9 L306.4 94.3 L305.2 99.8 L308.3 101.7 L306.0 107.4 L306.6 114.8 L300.7 112.8 L295.9 111.9 L295.8 107.2 L290.2 106.3 L291.0 100.7 L285.1 99.2 L287.2 93.1 L283.5 90.2Z"/>
<path d="M285.6 80.4L306.6 114.8"/>
<path d="M293.2 92.9L301.5 93.8M298.0 100.7L306.3 100.4M294.8 95.4L291.6 101.6M299.3 102.9L296.1 108.3"/>
<circle cx="284.0" cy="74.5" r="11.5"/>
<circle cx="284.0" cy="74.5" r="10.0"/>
<path d="M274.5 79.5A8.5 8.5 0 0 0 288.5 84.5"/>
<path d="M276.0 78.5A7.0 7.0 0 0 0 287.5 83.0"/>
<path d="M274.0 481.5 L267.0 483.0 L265.2 478.9 L258.8 479.0 L259.1 473.3 L254.3 472.3 L255.1 466.7 L251.9 465.0 L253.7 459.2 L252.5 451.9 L258.5 453.4 L263.4 454.0 L263.9 458.6 L269.5 459.0 L269.1 464.7 L275.2 465.7 L273.5 471.9 L277.4 474.5Z"/>
<path d="M276.1 484.5L252.5 451.9"/>
<path d="M267.6 472.6L259.2 472.3M262.2 465.2L253.9 466.2M265.8 470.3L268.5 463.8M260.7 463.1L263.5 457.5"/>
<path d="M286.0 480.5 L282.5 475.1 L285.3 472.3 L283.2 467.0 L288.0 465.5 L287.3 461.2 L292.2 460.1 L292.6 456.8 L298.0 456.4 L303.7 453.1 L304.4 458.6 L305.5 462.8 L301.8 464.7 L303.2 469.5 L298.4 471.0 L299.5 476.4 L293.8 477.0 L292.9 481.1Z"/>
<path d="M284.2 483.2L303.7 453.1"/>
<path d="M291.3 472.3L288.9 465.3M295.7 465.4L292.3 458.9M292.7 470.1L298.9 470.2M297.0 463.5L302.6 464.0"/>
<path d="M279.5 496.0 L281.6 502.7 L277.7 504.8 L278.4 511.0 L272.9 511.2 L272.3 516.0 L266.8 515.6 L265.4 519.0 L259.6 517.7 L252.6 519.5 L253.6 513.5 L253.7 508.8 L258.1 507.9 L258.0 502.4 L263.6 502.2 L264.1 496.2 L270.2 497.3 L272.4 493.3Z"/>
<path d="M282.2 493.6L252.6 519.5"/>
<path d="M271.4 503.1L271.9 511.2M264.7 508.9L266.4 516.8M269.3 504.9L262.8 502.9M262.8 510.6L257.1 508.3"/>
<path d="M287.0 493.0 L294.2 492.1 L295.6 496.3 L302.0 496.7 L301.2 502.4 L305.9 503.8 L304.7 509.3 L307.8 511.2 L305.5 516.9 L306.1 524.3 L300.2 522.3 L295.4 521.4 L295.3 516.7 L289.7 515.8 L290.5 510.2 L284.6 508.7 L286.7 502.6 L283.0 499.7Z"/>
<path d="M285.1 489.9L306.1 524.3"/>
<path d="M292.7 502.4L301.0 503.3M297.5 510.2L305.8 509.9M294.3 504.9L291.1 511.1M298.8 512.4L295.6 517.8"/>
<circle cx="283.5" cy="484.0" r="11.5"/>
<circle cx="283.5" cy="484.0" r="10.0"/>
<path d="M274.0 489.0A8.5 8.5 0 0 0 288.0 494.0"/>
<path d="M275.5 488.0A7.0 7.0 0 0 0 287.0 492.5"/>
<path d="M274.0 1185.5 L267.0 1187.0 L265.2 1182.9 L258.8 1183.0 L259.1 1177.3 L254.3 1176.3 L255.1 1170.7 L251.9 1169.0 L253.7 1163.2 L252.5 1155.9 L258.5 1157.4 L263.4 1158.0 L263.9 1162.6 L269.5 1163.0 L269.1 1168.7 L275.2 1169.7 L273.5 1175.9 L277.4 1178.5Z"/>
<path d="M276.1 1188.5L252.5 1155.9"/>
<path d="M267.6 1176.6L259.2 1176.3M262.2 1169.2L253.9 1170.2M265.8 1174.3L268.5 1167.8M260.7 1167.1L263.5 1161.5"/>
<path d="M286.0 1184.5 L282.5 1179.1 L285.3 1176.3 L283.2 1171.0 L288.0 1169.5 L287.3 1165.2 L292.2 1164.1 L292.6 1160.8 L298.0 1160.4 L303.7 1157.1 L304.4 1162.6 L305.5 1166.8 L301.8 1168.7 L303.2 1173.5 L298.4 1175.0 L299.5 1180.4 L293.8 1181.0 L292.9 1185.1Z"/>
<path d="M284.2 1187.2L303.7 1157.1"/>
<path d="M291.3 1176.3L288.9 1169.3M295.7 1169.4L292.3 1162.9M292.7 1174.1L298.9 1174.2M297.0 1167.5L302.6 1168.0"/>
<path d="M279.5 1200.0 L281.6 1206.7 L277.7 1208.8 L278.4 1215.0 L272.9 1215.2 L272.3 1220.0 L266.8 1219.6 L265.4 1223.0 L259.6 1221.7 L252.6 1223.5 L253.6 1217.5 L253.7 1212.8 L258.1 1211.9 L258.0 1206.4 L263.6 1206.2 L264.1 1200.2 L270.2 1201.3 L272.4 1197.3Z"/>
<path d="M282.2 1197.7L252.6 1223.5"/>
<path d="M271.4 1207.0L271.9 1215.2M264.7 1212.9L266.4 1220.8M269.3 1208.9L262.8 1206.9M262.8 1214.6L257.1 1212.3"/>
<path d="M287.0 1197.0 L294.2 1196.1 L295.6 1200.3 L302.0 1200.7 L301.2 1206.4 L305.9 1207.8 L304.7 1213.3 L307.8 1215.2 L305.5 1220.9 L306.1 1228.3 L300.2 1226.3 L295.4 1225.4 L295.3 1220.7 L289.7 1219.8 L290.5 1214.2 L284.6 1212.7 L286.7 1206.6 L283.0 1203.7Z"/>
<path d="M285.1 1193.9L306.1 1228.3"/>
<path d="M292.7 1206.4L301.0 1207.3M297.5 1214.2L305.8 1213.9M294.3 1208.9L291.1 1215.1M298.8 1216.4L295.6 1221.8"/>
<circle cx="283.5" cy="1188.0" r="11.5"/>
<circle cx="283.5" cy="1188.0" r="10.0"/>
<path d="M274.0 1193.0A8.5 8.5 0 0 0 288.0 1198.0"/>
<path d="M275.5 1192.0A7.0 7.0 0 0 0 287.0 1196.5"/>
<path d="M1246.1 504.6 L1237.1 506.5 L1234.9 501.2 L1226.7 501.4 L1227.2 494.2 L1221.0 492.9 L1222.1 485.8 L1218.0 483.6 L1220.3 476.2 L1218.8 467.0 L1226.4 468.9 L1232.6 469.6 L1233.2 475.4 L1240.3 476.0 L1239.9 483.2 L1247.5 484.5 L1245.5 492.4 L1250.4 495.6Z"/>
<path d="M1248.8 508.3L1218.8 467.0"/>
<path d="M1237.9 493.3L1227.3 492.9M1231.1 483.9L1220.6 485.2M1235.7 490.3L1239.1 482.1M1229.1 481.2L1232.7 474.1"/>
<path d="M1261.3 503.3 L1256.8 496.5 L1260.5 492.9 L1257.7 486.2 L1263.9 484.2 L1263.0 478.7 L1269.2 477.3 L1269.7 473.2 L1276.6 472.7 L1283.8 468.5 L1284.6 475.4 L1286.0 480.8 L1281.4 483.2 L1283.2 489.3 L1277.1 491.3 L1278.4 498.1 L1271.3 498.9 L1270.1 504.1Z"/>
<path d="M1259.1 506.8L1283.8 468.5"/>
<path d="M1268.1 492.8L1264.9 483.9M1273.7 484.1L1269.3 475.9M1269.9 490.1L1277.7 490.2M1275.2 481.7L1282.4 482.4"/>
<path d="M1253.1 523.0 L1255.7 531.5 L1250.8 534.2 L1251.7 542.1 L1244.6 542.3 L1243.9 548.3 L1236.9 547.9 L1235.2 552.1 L1227.7 550.5 L1218.9 552.8 L1220.1 545.2 L1220.2 539.2 L1225.9 538.0 L1225.8 531.1 L1232.8 530.9 L1233.5 523.3 L1241.2 524.6 L1244.0 519.5Z"/>
<path d="M1256.5 520.0L1218.9 552.8"/>
<path d="M1242.8 531.9L1243.4 542.3M1234.3 539.4L1236.4 549.4M1240.1 534.3L1231.8 531.8M1231.9 541.5L1224.6 538.6"/>
<path d="M1262.6 519.2 L1271.7 518.0 L1273.5 523.4 L1281.7 523.9 L1280.6 531.1 L1286.6 532.8 L1285.0 539.8 L1289.0 542.3 L1286.0 549.6 L1286.8 558.9 L1279.4 556.4 L1273.3 555.2 L1273.1 549.3 L1266.0 548.1 L1267.1 541.0 L1259.5 539.0 L1262.2 531.4 L1257.5 527.7Z"/>
<path d="M1260.2 515.2L1286.8 558.9"/>
<path d="M1269.9 531.1L1280.4 532.3M1275.9 541.0L1286.5 540.6M1271.8 534.3L1267.8 542.2M1277.6 543.8L1273.5 550.7"/>
<circle cx="1258.1" cy="507.7" r="14.6"/>
<circle cx="1258.1" cy="507.7" r="12.7"/>
<path d="M1246.1 514.1A10.8 10.8 0 0 0 1263.8 520.4"/>
<path d="M1248.0 512.8A8.9 8.9 0 0 0 1262.6 518.5"/>
<path class="or" shape-rendering="crispEdges" d="M761.5 410.5 L757.5 410.5 L755.5 411.5 L755.5 425.5 L757.5 425.5 L757.5 413.5 L758.5 412.5 L761.5 412.5M768.5 410.5 L772.5 410.5 L774.5 411.5 L774.5 425.5 L772.5 425.5 L772.5 413.5 L771.5 412.5 L768.5 412.5M763.5 407.5 L762.5 407.5 L762.5 414.5 L763.5 414.5M767.5 407.5 L768.5 407.5 L768.5 414.5 L767.5 414.5"/>
<path class="or" shape-rendering="crispEdges" d="M585.5 512.5 L585.5 508.5 L586.5 506.5 L602.5 506.5 L602.5 508.5 L588.5 508.5 L587.5 509.5 L587.5 512.5M585.5 519.5 L585.5 523.5 L586.5 525.5 L602.5 525.5 L602.5 523.5 L588.5 523.5 L587.5 522.5 L587.5 519.5M582.5 514.5 L582.5 513.5 L589.5 513.5 L589.5 514.5M582.5 518.5 L582.5 519.5 L589.5 519.5 L589.5 518.5"/>
<path class="or" shape-rendering="crispEdges" d="M1265.5 583.5 L1265.5 579.5 L1266.5 577.5 L1284.5 577.5 L1284.5 579.5 L1268.5 579.5 L1267.5 580.5 L1267.5 583.5M1265.5 593.5 L1265.5 597.5 L1266.5 599.5 L1284.5 599.5 L1284.5 597.5 L1268.5 597.5 L1267.5 596.5 L1267.5 593.5M1262.5 586.5 L1262.5 585.5 L1270.5 585.5 L1270.5 586.5M1262.5 591.5 L1262.5 592.5 L1270.5 592.5 L1270.5 591.5"/>
<path class="or" shape-rendering="crispEdges" d="M761.5 859.5 L757.5 859.5 L755.5 858.5 L755.5 844.5 L757.5 844.5 L757.5 856.5 L758.5 857.5 L761.5 857.5M768.5 859.5 L772.5 859.5 L774.5 858.5 L774.5 844.5 L772.5 844.5 L772.5 856.5 L771.5 857.5 L768.5 857.5M763.5 862.5 L762.5 862.5 L762.5 855.5 L763.5 855.5M767.5 862.5 L768.5 862.5 L768.5 855.5 L767.5 855.5"/>
<path class="or" shape-rendering="crispEdges" d="M866.5 859.5 L862.5 859.5 L860.5 858.5 L860.5 844.5 L862.5 844.5 L862.5 856.5 L863.5 857.5 L866.5 857.5M872.5 859.5 L876.5 859.5 L878.5 858.5 L878.5 844.5 L876.5 844.5 L876.5 856.5 L875.5 857.5 L872.5 857.5M867.5 862.5 L866.5 862.5 L866.5 855.5 L867.5 855.5M871.5 862.5 L872.5 862.5 L872.5 855.5 L871.5 855.5"/>
<path class="or" shape-rendering="crispEdges" d="M854.5 1194.5 L854.5 1190.5 L853.5 1188.5 L842.5 1188.5 L842.5 1190.5 L851.5 1190.5 L852.5 1191.5 L852.5 1194.5M854.5 1197.5 L854.5 1201.5 L853.5 1203.5 L842.5 1203.5 L842.5 1201.5 L851.5 1201.5 L852.5 1200.5 L852.5 1197.5M857.5 1194.5 L857.5 1193.5 L852.5 1193.5 L852.5 1194.5M857.5 1197.5 L857.5 1198.5 L852.5 1198.5 L852.5 1197.5"/>
<path class="or" shape-rendering="crispEdges" d="M573 518.5H668"/>
<path class="or" shape-rendering="crispEdges" d="M800 1194.5H866"/>
<path class="or" shape-rendering="crispEdges" d="M757 871.5H766"/>
<path class="or" shape-rendering="crispEdges" d="M866 871.5H876"/>
<path class="or" d="M762 781.5H766M865 780.5L867 782.5H870M763.5 489.5H766M1252.5 587V591M1251 588L1252.5 587M756 859.5H759M762.5 399.5H765M763.5 872.5V875"/>
<g class="arc">
<path d="M589 569A92 92 0 0 0 656 608.5"/>
<path d="M799.5 1119.5A72 72 0 0 1 865.5 1194.5"/>
<path d="M691 437Q684 449 679 463"/>
<path d="M1284 663Q1294 672 1303 679"/>
<path d="M719.5 859Q731 864 741.5 868.5"/>
<path d="M919.5 854.5Q931 845 940.5 834"/>
<path d="M951.5 810.5Q956 798 957 784.5"/>
</g>
</svg>
</body></html>
